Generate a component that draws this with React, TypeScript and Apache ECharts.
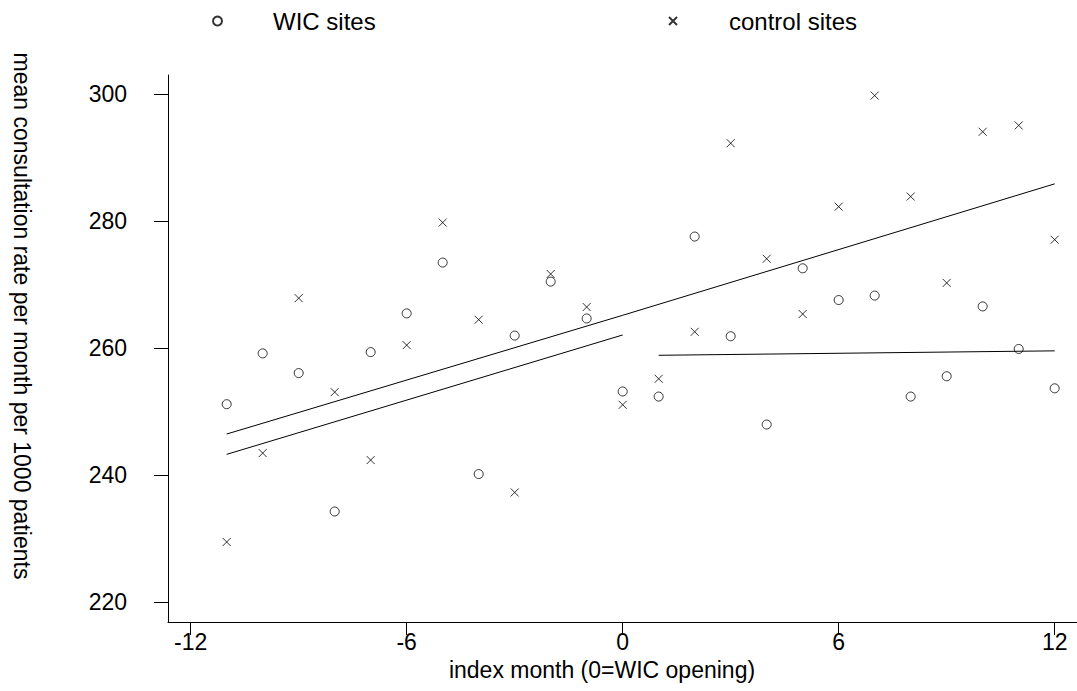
import React, { useEffect, useRef } from "react";
import * as echarts from "echarts";

const months = [-11, -10, -9, -8, -7, -6, -5, -4, -3, -2, -1, 0, 1, 2, 3, 4, 5, 6, 7, 8, 9, 10, 11, 12];
const wicSites = [251.2, 259.2, 256.1, 234.3, 259.4, 265.5, 273.5, 240.2, 262.0, 270.5, 264.7, 253.2, 252.4, 277.6, 261.9, 248.0, 272.6, 267.6, 268.3, 252.4, 255.6, 266.6, 259.9, 253.7];
const controlSites = [229.5, 243.5, 267.9, 253.1, 242.4, 260.5, 279.8, 264.5, 237.3, 271.7, 266.5, 251.1, 255.2, 262.6, 292.3, 274.1, 265.4, 282.3, 299.8, 283.9, 270.3, 294.1, 295.1, 277.1];
const controlFit = [[-11, 246.5], [0, 265.2], [12, 285.9]];
const wicFitPre = [[-11, 243.3], [0, 262.1]];
const wicFitPost = [[1, 258.9], [12, 259.6]];
const xTicks = [-12, -6, 0, 6, 12];
const yTicks = [220, 240, 260, 280, 300];

const FONT = "'Liberation Sans', Arial, Helvetica, sans-serif";

export default function App() {
  const ref = useRef<HTMLDivElement>(null);
  useEffect(() => {
    if (!ref.current) return;
    const chart = echarts.init(ref.current, undefined, { renderer: "svg" });
    const markerStyle = { color: "rgba(0,0,0,0)", borderColor: "#000", borderWidth: 1 };
    const lineStyle = { color: "#000", width: 1 };
    chart.setOption({
      animation: false,
      backgroundColor: "#fff",
      textStyle: { fontFamily: FONT },
      grid: { left: 168, top: 75, right: 0, bottom: 69, containLabel: false },
      legend: [
        {
          data: ["WIC sites"],
          left: 212,
          top: 9,
          padding: 0,
          itemWidth: 9,
          itemHeight: 9,
          textStyle: { fontSize: 24, color: "#000", fontFamily: FONT, padding: [0, 0, 0, 46] },
        },
        {
          data: ["control sites"],
          left: 668,
          top: 9,
          padding: 0,
          itemWidth: 8,
          itemHeight: 8,
          textStyle: { fontSize: 24, color: "#000", fontFamily: FONT, padding: [0, 0, 0, 47] },
        },
      ],
      xAxis: {
        type: "value",
        min: -12.63,
        max: 12.62,
        axisLine: { onZero: false, lineStyle: { color: "#000", width: 1 } },
        axisTick: { show: true, length: 13, customValues: xTicks, lineStyle: { color: "#000" } },
        axisLabel: { customValues: xTicks, margin: 9, fontSize: 23, lineHeight: 22, color: "#000", fontFamily: FONT },
        splitLine: { show: false },
      },
      yAxis: {
        type: "value",
        min: 216.9,
        max: 303.04,
        axisLine: { show: true, onZero: false, lineStyle: { color: "#000", width: 1 } },
        axisTick: { show: true, length: 14, customValues: yTicks, lineStyle: { color: "#000" } },
        axisLabel: { customValues: yTicks, margin: 41, fontSize: 23, color: "#000", fontFamily: FONT },
        splitLine: { show: false },
      },
      graphic: [
        {
          type: "text",
          x: 22,
          y: 316,
          rotation: -Math.PI / 2,
          style: {
            text: "mean consultation rate per month per 1000 patients",
            fontSize: 23,
            fontFamily: FONT,
            fill: "#000",
            align: "center",
            verticalAlign: "middle",
          },
        },
        {
          type: "text",
          x: 602,
          y: 670,
          style: {
            text: "index month (0=WIC opening)",
            fontSize: 23,
            lineHeight: 20,
            fontFamily: FONT,
            fill: "#000",
            align: "center",
            verticalAlign: "middle",
          },
        },
      ],
      series: [
        {
          name: "WIC sites",
          type: "scatter",
          symbol: "circle",
          symbolSize: 9,
          itemStyle: markerStyle,
          data: months.map((m, i) => [m, wicSites[i]]),
          z: 3,
        },
        {
          name: "control sites",
          type: "scatter",
          symbol: "path://M0,0L10,10M10,0L0,10",
          symbolSize: 8,
          itemStyle: markerStyle,
          data: months.map((m, i) => [m, controlSites[i]]),
          z: 3,
        },
        {
          name: "control fit",
          type: "line",
          showSymbol: false,
          symbol: "none",
          lineStyle,
          data: controlFit,
        },
        {
          name: "WIC fit pre",
          type: "line",
          showSymbol: false,
          symbol: "none",
          lineStyle,
          data: wicFitPre,
        },
        {
          name: "WIC fit post",
          type: "line",
          showSymbol: false,
          symbol: "none",
          lineStyle,
          data: wicFitPost,
        },
      ],
    });
    return () => chart.dispose();
  }, []);
  return <div ref={ref} style={{ position: "fixed", left: 0, top: 0, width: 1077, height: 691 }} />;
}
